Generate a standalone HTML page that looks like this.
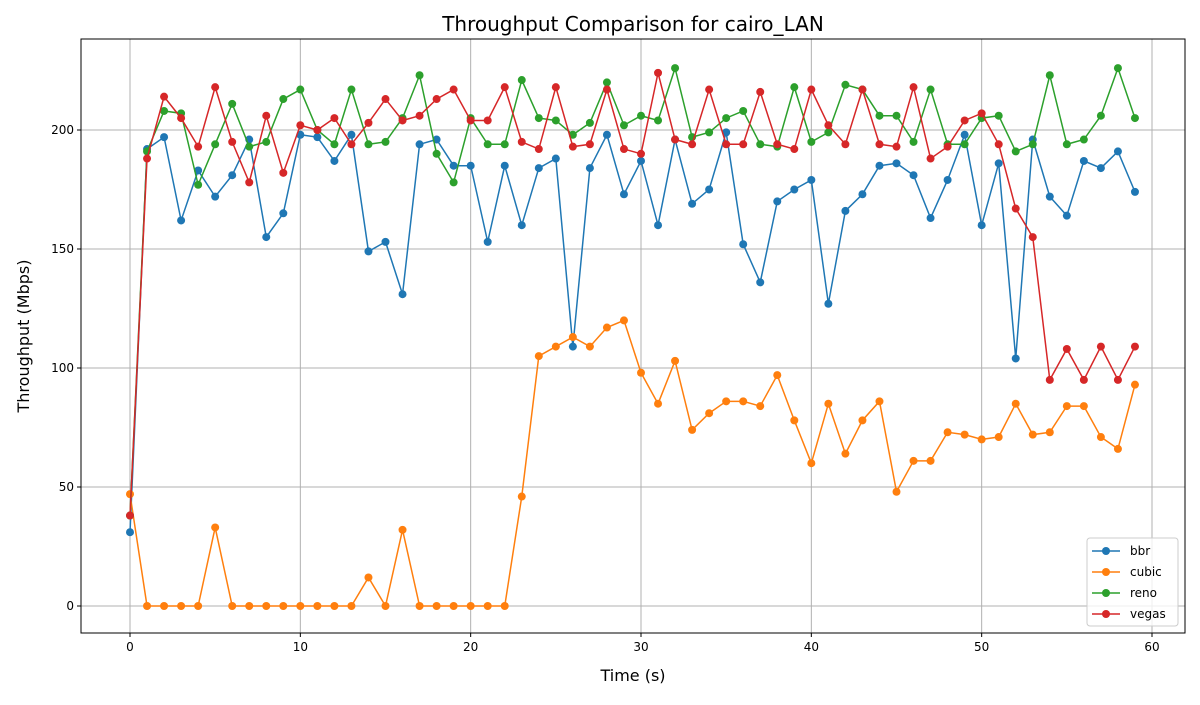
<!DOCTYPE html>
<html><head><meta charset="utf-8"><style>
body{margin:0;background:#fff;}
svg{font-family:"DejaVu Sans","Liberation Sans",sans-serif;}
</style></head><body>
<svg id="chart" width="1200" height="700"></svg>
<script>
const times = Array.from({length:60},(_,i)=>i);
const bbr=[31,192,197,162,183,172,181,196,155,165,198,197,187,198,149,153,131,194,196,185,185,153,185,160,184,188,109,184,198,173,187,160,196,169,175,199,152,136,170,175,179,127,166,173,185,186,181,163,179,198,160,186,104,196,172,164,187,184,191,174];
const cubic=[47,0,0,0,0,33,0,0,0,0,0,0,0,0,12,0,32,0,0,0,0,0,0,46,105,109,113,109,117,120,98,85,103,74,81,86,86,84,97,78,60,85,64,78,86,48,61,61,73,72,70,71,85,72,73,84,84,71,66,93];
const reno=[38,191,208,207,177,194,211,193,195,213,217,200,194,217,194,195,205,223,190,178,205,194,194,221,205,204,198,203,220,202,206,204,226,197,199,205,208,194,193,218,195,199,219,217,206,206,195,217,194,194,205,206,191,194,223,194,196,206,226,205];
const vegas=[38,188,214,205,193,218,195,178,206,182,202,200,205,194,203,213,204,206,213,217,204,204,218,195,192,218,193,194,217,192,190,224,196,194,217,194,194,216,194,192,217,202,194,217,194,193,218,188,193,204,207,194,167,155,95,108,95,109,95,109];
const xTicks=[0,10,20,30,40,50,60];
const yTicks=[0,50,100,150,200];
const seriesNames=["bbr","cubic","reno","vegas"];
const seriesColors=["#1f77b4","#ff7f0e","#2ca02c","#d62728"];
const seriesData=[bbr,cubic,reno,vegas];

const L=81,R=1185,T=39,B=633;
const xs=v=>130+(1152-130)*v/60;
const ys=v=>606-(606-130)*v/200;
const NS="http://www.w3.org/2000/svg";
const svg=document.getElementById('chart');
function mk(tag,attrs,parent){const e=document.createElementNS(NS,tag);for(const k in attrs)e.setAttribute(k,attrs[k]);(parent||svg).appendChild(e);return e;}

const grid=mk('g',{});


xTicks.forEach(t=>{mk('line',{x1:xs(t),x2:xs(t),y1:T,y2:B,stroke:'#b0b0b0','stroke-width':1},grid);});
yTicks.forEach(t=>{mk('line',{x1:L,x2:R,y1:ys(t),y2:ys(t),stroke:'#b0b0b0','stroke-width':1},grid);});

seriesData.forEach((d,si)=>{
  const g=mk('g',{});
  
  
  mk('polyline',{points:d.map((v,i)=>xs(times[i])+','+ys(v)).join(' '),fill:'none',stroke:seriesColors[si],'stroke-width':1.5},g);
  d.forEach((v,i)=>{
    const c=mk('circle',{cx:xs(times[i]),cy:ys(v),r:4,fill:seriesColors[si]},g);
    
    
  });
});

const frame=mk('rect',{x:L,y:T,width:R-L,height:B-T,fill:'none',stroke:'#000','stroke-width':1});



xTicks.forEach(t=>{
  mk('line',{x1:xs(t),x2:xs(t),y1:B,y2:B+4,stroke:'#000'});
  const tx=mk('text',{x:xs(t),y:B+18,'text-anchor':'middle','font-size':12});
  tx.textContent=t;
  
  
});
yTicks.forEach(t=>{
  mk('line',{x1:L-4,x2:L,y1:ys(t),y2:ys(t),stroke:'#000'});
  const tx=mk('text',{x:L-7,y:ys(t)+4,'text-anchor':'end','font-size':12});
  tx.textContent=t;
  
  
});

const title=mk('text',{x:633,y:31,'text-anchor':'middle','font-size':20});
title.textContent='Throughput Comparison for cairo_LAN';


const xl=mk('text',{x:633,y:681,'text-anchor':'middle','font-size':16});
xl.textContent='Time (s)';


const yl=mk('text',{x:29,y:336,'text-anchor':'middle','font-size':16,transform:'rotate(-90 29 336)'});
yl.textContent='Throughput (Mbps)';



const lg=mk('g',{});


mk('rect',{x:1087,y:538,width:91,height:88,rx:3,fill:'#fff','fill-opacity':0.8,stroke:'#ccc'},lg);
seriesNames.forEach((n,i)=>{
  const y=551+i*21;
  const e=mk('g',{},lg);
  
  
  mk('line',{x1:1092,x2:1120,y1:y,y2:y,stroke:seriesColors[i],'stroke-width':1.5},e);
  mk('circle',{cx:1106,cy:y,r:4,fill:seriesColors[i]},e);
  const t=mk('text',{x:1130,y:y+4,'font-size':12},e);
  t.textContent=n;
});
</script>
</body></html>
